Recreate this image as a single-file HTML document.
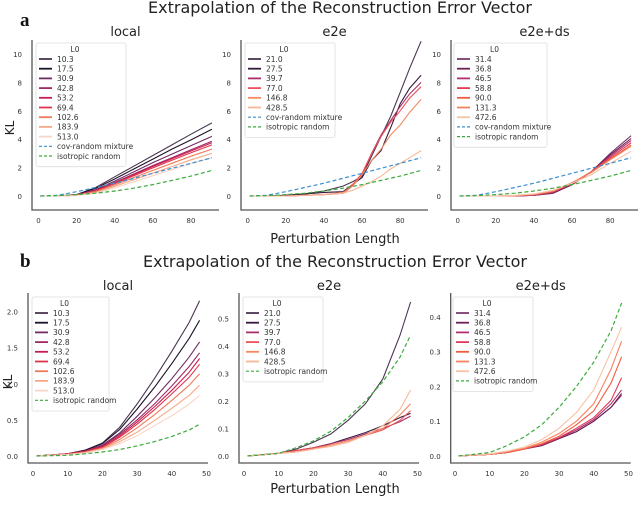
<!DOCTYPE html>
<html><head><meta charset="utf-8"><style>
body{margin:0;background:#fff;width:640px;height:500px;overflow:hidden}
svg text{font-family:"DejaVu Sans","Liberation Sans",sans-serif}
svg text.serif{font-family:"Liberation Serif",serif}
</style></head><body>
<svg id="fig" width="640" height="500" viewBox="0 0 640 500">
<text x="340" y="13" font-size="16" text-anchor="middle" fill="#222">Extrapolation of the Reconstruction Error Vector</text>
<text class="serif" x="20" y="26" font-size="19" font-weight="bold" fill="#111">a</text>
<text x="335" y="267" font-size="16" text-anchor="middle" fill="#222">Extrapolation of the Reconstruction Error Vector</text>
<text class="serif" x="20" y="267" font-size="19" font-weight="bold" fill="#111">b</text>
<text x="335" y="243" font-size="13" text-anchor="middle" fill="#222">Perturbation Length</text>
<text x="335" y="493" font-size="13" text-anchor="middle" fill="#222">Perturbation Length</text>
<text transform="translate(14,128) rotate(-90)" font-size="12" text-anchor="middle" fill="#222">KL</text>
<text transform="translate(12,382) rotate(-90)" font-size="12" text-anchor="middle" fill="#222">KL</text>
</svg>
<script>
// ---- data ----
const xTop = [1,10,20,30,40,50,60,70,80,91];
const xTopE2e = [1,10,20,30,40,50,55,60,65,70,75,80,85,91];
const xBot = [1,10,15,20,25,30,35,40,45,48];

const localTopLabels = ["10.3","17.5","30.9","42.8","53.2","69.4","102.6","183.9","513.0"];
const localTop = [
[0,0,0.1,0.6,1.35,2.1,2.85,3.6,4.35,5.15],
[0,0,0.1,0.55,1.2,1.9,2.6,3.3,3.95,4.7],
[0,0,0.08,0.45,1.05,1.7,2.35,2.95,3.55,4.2],
[0,0,0.07,0.4,0.95,1.55,2.15,2.7,3.25,3.85],
[0,0,0.07,0.38,0.92,1.5,2.08,2.63,3.17,3.75],
[0,0,0.06,0.35,0.87,1.43,1.98,2.52,3.05,3.6],
[0,0,0.05,0.3,0.78,1.3,1.8,2.3,2.8,3.3],
[0,0,0.04,0.25,0.68,1.15,1.62,2.08,2.55,3.0],
[0,0,0.03,0.2,0.58,1.0,1.43,1.86,2.28,2.7]];
const covTop = [0,0.05,0.3,0.6,0.9,1.25,1.6,1.95,2.3,2.7];
const isoTop = [0,0.02,0.1,0.2,0.35,0.55,0.8,1.1,1.4,1.8];

const e2eTopLabels = ["21.0","27.5","39.7","77.0","146.8","428.5"];
const e2eTop = [
[0,0,0.05,0.15,0.35,0.7,1.0,1.4,2.8,4.2,5.6,7.3,9.0,10.9],
[0,0,0.05,0.15,0.25,0.3,0.8,1.3,2.5,3.2,4.8,6.5,7.6,8.5],
[0,0,0,0.05,0.1,0.2,0.7,1.5,3.0,4.3,5.3,6.3,7.2,8.0],
[0,0,0,0.05,0.1,0.2,0.8,1.6,3.0,4.2,5.2,6.0,6.9,7.7],
[0,0,0,0.05,0.1,0.25,0.7,1.5,2.5,3.3,4.3,5.0,5.9,6.8],
[0,0,0,0.05,0.1,0.2,0.4,0.7,1.0,1.4,1.9,2.3,2.7,3.2]];

const dsTopLabels = ["31.4","36.8","46.5","58.8","90.0","131.3","472.6"];
const dsTop = [
[0,0,0,0,0.05,0.2,0.8,1.7,3.0,4.25],
[0,0,0,0,0.05,0.2,0.8,1.7,2.9,4.05],
[0,0,0,0,0.05,0.25,0.85,1.7,2.8,3.9],
[0,0,0,0.02,0.1,0.3,0.9,1.7,2.7,3.75],
[0,0,0,0.02,0.1,0.3,0.9,1.7,2.6,3.6],
[0,0,0,0.03,0.1,0.35,0.95,1.65,2.55,3.5],
[0,0,0,0.05,0.15,0.4,0.9,1.5,2.3,3.15]];

const localBot = [
[0,0.03,0.08,0.18,0.4,0.72,1.07,1.45,1.85,2.15],
[0,0.03,0.08,0.17,0.37,0.65,0.95,1.28,1.63,1.88],
[0,0.03,0.07,0.15,0.32,0.55,0.8,1.07,1.37,1.58],
[0,0.03,0.07,0.14,0.3,0.5,0.72,0.97,1.24,1.43],
[0,0.03,0.06,0.13,0.28,0.47,0.68,0.91,1.16,1.35],
[0,0.03,0.06,0.12,0.26,0.44,0.64,0.86,1.09,1.27],
[0,0.02,0.05,0.11,0.23,0.39,0.57,0.77,0.98,1.14],
[0,0.02,0.05,0.1,0.2,0.33,0.49,0.66,0.84,0.98],
[0,0.02,0.04,0.09,0.17,0.28,0.42,0.56,0.72,0.84]];
const isoBot = [0,0.01,0.03,0.055,0.09,0.14,0.2,0.27,0.36,0.44];
const e2eBot = [
[0,0.01,0.025,0.05,0.08,0.13,0.19,0.28,0.44,0.56],
[0,0.01,0.02,0.03,0.045,0.065,0.085,0.11,0.14,0.155],
[0,0.01,0.02,0.03,0.045,0.06,0.08,0.1,0.125,0.145],
[0,0.01,0.02,0.03,0.04,0.055,0.075,0.095,0.13,0.165],
[0,0.01,0.015,0.025,0.04,0.055,0.075,0.1,0.15,0.19],
[0,0.01,0.015,0.025,0.035,0.05,0.075,0.11,0.17,0.24]];
const dsBot = [
[0,0.005,0.01,0.02,0.03,0.05,0.07,0.1,0.14,0.175],
[0,0.005,0.01,0.02,0.03,0.05,0.07,0.1,0.14,0.18],
[0,0.005,0.01,0.02,0.032,0.052,0.075,0.105,0.15,0.19],
[0,0.005,0.01,0.02,0.033,0.053,0.08,0.11,0.16,0.225],
[0,0.005,0.01,0.02,0.035,0.057,0.09,0.13,0.21,0.285],
[0,0.005,0.012,0.022,0.04,0.065,0.1,0.15,0.25,0.33],
[0,0.006,0.014,0.026,0.047,0.08,0.125,0.19,0.3,0.37]];

const ticksTopY = [0,2,4,6,8,10];
const ticksTopX = [0,20,40,60,80];
const ticksBotX = [0,10,20,30,40,50];
const ticksB1Y = ["0.0","0.5","1.0","1.5","2.0"];
const ticksB2Y = ["0.0","0.1","0.2","0.3","0.4","0.5"];
const ticksB3Y = ["0.0","0.1","0.2","0.3","0.4"];

const col9 = ["#4a3550","#1d1228","#6d2c62","#a02966","#c81d50","#e1344c","#f07a58","#f6a886","#f8d5c6"];
const col6 = ["#4a3550","#35183e","#a8306a","#ec5157","#f48a5f","#f8b896"];
const col7 = ["#7a3d6e","#6e1f58","#b0326c","#e23a57","#f05a3e","#f5835c","#f8c2a8"];

const svg = document.getElementById('fig');
const NS = 'http://www.w3.org/2000/svg';
function mk(tag, attrs, parent){const e=document.createElementNS(NS,tag);for(const k in attrs)e.setAttribute(k,attrs[k]);(parent||svg).appendChild(e);return e;}

function panel(cfg){
  const g = mk('g',{});
  
  
  const sx = v => cfg.x0 + v*cfg.xu;
  const sy = v => cfg.y0 - v*cfg.yu;
  const t = mk('text',{x:(cfg.left+cfg.right)/2,y:cfg.titleY,'font-size':13,'text-anchor':'middle',fill:'#222'},g);
  t.textContent = cfg.title;
  
  
  cfg.xt.forEach(v=>{const e=mk('text',{x:sx(v),y:cfg.bottom+13,'font-size':7,'text-anchor':'middle',fill:'#333'},g);e.textContent=v;
    
    });
  cfg.yt.forEach(v=>{const e=mk('text',{x:cfg.left-10,y:sy(parseFloat(v))+3,'font-size':7,'text-anchor':'end',fill:'#333'},g);e.textContent=v;
    
    });
  const draw = (xs, ys, color, dash, w, nm) => {
    const p = mk('polyline',{points:xs.map((x,i)=>sx(x).toFixed(1)+','+sy(ys[i]).toFixed(1)).join(' '),fill:'none',stroke:color,'stroke-width':w||1.1,'stroke-dasharray':dash||'none'},g);
    
    
  };
  cfg.series.forEach((s,i)=>draw(cfg.xs,s,cfg.colors[i],null,1.1,'series-line-'+cfg.labels[i]));
  if(cfg.cov) draw(cfg.covX,cfg.cov,'#3a8fd0','4,2.5',1.2,'cov-random-mixture-line');
  if(cfg.iso) draw(cfg.isoX,cfg.iso,'#3cab3c','4,2.5',1.2,'isotropic-random-line');
  const ax = mk('path',{d:`M${cfg.left},${cfg.top} V${cfg.bottom} H${cfg.right}`,fill:'none',stroke:'#555','stroke-width':1.3},g);
  
  
  const L = cfg.leg, step = 9.7;
  const n = cfg.labels.length + (cfg.cov?1:0) + (cfg.iso?1:0);
  const lg = mk('g',{},g);
  
  
  mk('rect',{x:L.x,y:L.y,width:L.w,height:17+n*step,fill:'#fff','fill-opacity':0.85,stroke:'#ddd','stroke-width':0.8,rx:2},lg);
  const lt = mk('text',{x:L.x+L.w/2-6,y:L.y+9,'font-size':7.5,'text-anchor':'middle',fill:'#333'},lg); lt.textContent='L0';
  const entry = (i,label,color,dash) => {
    const yy = L.y+16+i*step;
    mk('line',{x1:L.x+3,x2:L.x+16,y1:yy,y2:yy,stroke:color,'stroke-width':dash?1.2:1.8,'stroke-dasharray':dash||'none'},lg);
    const e = mk('text',{x:L.x+21,y:yy+2.8,'font-size':7.5,fill:'#333'},lg); e.textContent=label;
    
    
  };
  cfg.labels.forEach((l,i)=>entry(i,l,cfg.colors[i]));
  let k = cfg.labels.length;
  if(cfg.cov) entry(k++,'cov-random mixture','#3a8fd0','3,2');
  if(cfg.iso) entry(k++,'isotropic random','#3cab3c','3,2');
}

const topBase = {y0:196,yu:14.2,top:40,bottom:210,xu:1.906,titleY:36,xt:ticksTopX,yt:ticksTopY.map(String)};
panel(Object.assign({},topBase,{name:'panel-a-local',title:'local',x0:38.5,left:32,right:219,xs:xTop,series:localTop,labels:localTopLabels,colors:col9,cov:covTop,covX:xTop,iso:isoTop,isoX:xTop,leg:{x:36,y:43,w:90}}));
panel(Object.assign({},topBase,{name:'panel-a-e2e',title:'e2e',x0:247.7,left:241,right:428,xs:xTopE2e,series:e2eTop,labels:e2eTopLabels,colors:col6,cov:covTop,covX:xTop,iso:isoTop,isoX:xTop,leg:{x:245,y:43,w:90}}));
panel(Object.assign({},topBase,{name:'panel-a-e2e-ds',title:'e2e+ds',x0:457.7,left:451,right:638,xs:xTop,series:dsTop,labels:dsTopLabels,colors:col7,cov:covTop,covX:xTop,iso:isoTop,isoX:xTop,leg:{x:454,y:43,w:93}}));

const botBase = {y0:456,top:293,bottom:463,xu:3.47,titleY:290,xt:ticksBotX};
panel(Object.assign({},botBase,{name:'panel-b-local',title:'local',x0:33,left:28,right:208,yu:72.2,yt:ticksB1Y,xs:xBot,series:localBot,labels:localTopLabels,colors:col9,iso:isoBot,isoX:xBot,leg:{x:32,y:297,w:77}}));
panel(Object.assign({},botBase,{name:'panel-b-e2e',title:'e2e',x0:244,left:239,right:419,yu:275,yt:ticksB2Y,xs:xBot,series:e2eBot,labels:e2eTopLabels,colors:col6,iso:isoBot,isoX:xBot,leg:{x:243,y:297,w:80}}));
panel(Object.assign({},botBase,{name:'panel-b-e2e-ds',title:'e2e+ds',x0:455,left:450.7,right:630.7,yu:348,yt:ticksB3Y,xs:xBot,series:dsBot,labels:dsTopLabels,colors:col7,iso:isoBot,isoX:xBot,leg:{x:453,y:297,w:80}}));
</script>
</body></html>
